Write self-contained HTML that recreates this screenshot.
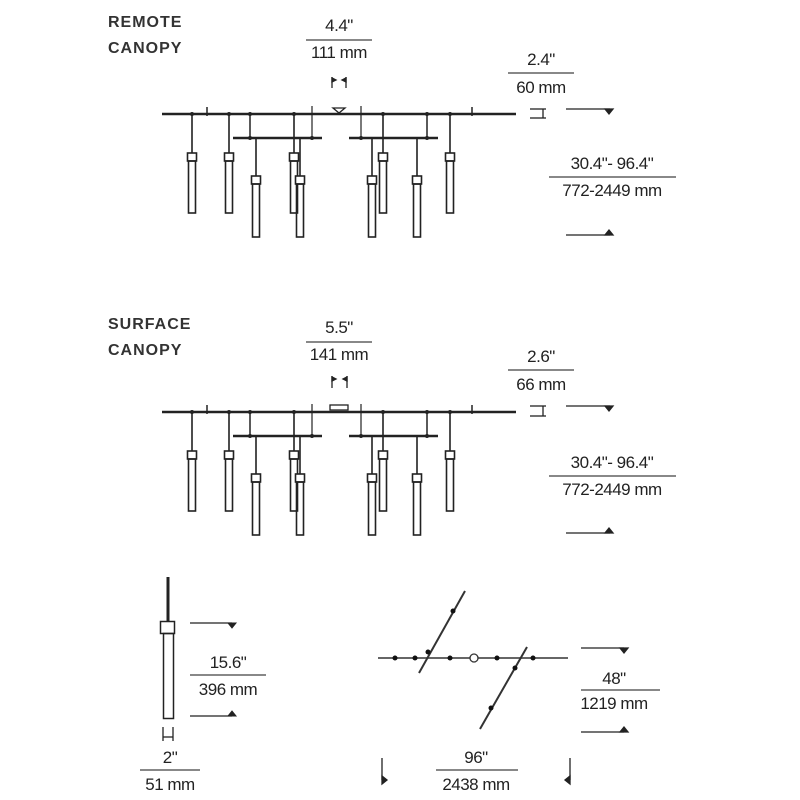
<!DOCTYPE html>
<html><head><meta charset="utf-8"><style>
html,body{margin:0;padding:0;background:#fff;}
svg{display:block;}
text{font-family:"Liberation Sans",sans-serif;fill:#222;font-size:17px;letter-spacing:-0.5px;}
.t{text-anchor:middle;}
.lab{font-size:16px;letter-spacing:1px;font-weight:bold;fill:#333;}
</style></head><body>
<svg width="800" height="800" viewBox="0 0 800 800" xmlns="http://www.w3.org/2000/svg">
<defs>
<g id="fix" stroke="#222" fill="none">
  <line x1="162" y1="0" x2="516" y2="0" stroke-width="2.5"/>
  <line x1="207" y1="-7" x2="207" y2="2" stroke-width="1.5"/>
  <line x1="312" y1="-8" x2="312" y2="24" stroke-width="1.2"/>
  <line x1="361" y1="-8" x2="361" y2="24" stroke-width="1.2"/>
  <line x1="472" y1="-7" x2="472" y2="2" stroke-width="1.5"/>
  <line x1="233" y1="24" x2="322" y2="24" stroke-width="2.5"/>
  <line x1="349" y1="24" x2="438" y2="24" stroke-width="2.5"/>
  <line x1="250" y1="0" x2="250" y2="24" stroke-width="1.5"/>
  <line x1="427" y1="0" x2="427" y2="24" stroke-width="1.5"/>
  <g stroke-width="1.6">
    <line x1="192" y1="0" x2="192" y2="39"/><rect x="187.5" y="39" width="9" height="8" fill="#fff"/><rect x="188.5" y="47" width="7" height="52"/>
    <line x1="229" y1="0" x2="229" y2="39"/><rect x="224.5" y="39" width="9" height="8" fill="#fff"/><rect x="225.5" y="47" width="7" height="52"/>
    <line x1="294" y1="0" x2="294" y2="39"/><rect x="289.5" y="39" width="9" height="8" fill="#fff"/><rect x="290.5" y="47" width="7" height="52"/>
    <line x1="383" y1="0" x2="383" y2="39"/><rect x="378.5" y="39" width="9" height="8" fill="#fff"/><rect x="379.5" y="47" width="7" height="52"/>
    <line x1="450" y1="0" x2="450" y2="39"/><rect x="445.5" y="39" width="9" height="8" fill="#fff"/><rect x="446.5" y="47" width="7" height="52"/>
    <line x1="256" y1="24" x2="256" y2="62"/><rect x="251.5" y="62" width="9" height="8" fill="#fff"/><rect x="252.5" y="70" width="7" height="53"/>
    <line x1="300" y1="24" x2="300" y2="62"/><rect x="295.5" y="62" width="9" height="8" fill="#fff"/><rect x="296.5" y="70" width="7" height="53"/>
    <line x1="372" y1="24" x2="372" y2="62"/><rect x="367.5" y="62" width="9" height="8" fill="#fff"/><rect x="368.5" y="70" width="7" height="53"/>
    <line x1="417" y1="24" x2="417" y2="62"/><rect x="412.5" y="62" width="9" height="8" fill="#fff"/><rect x="413.5" y="70" width="7" height="53"/>
  </g>
  <g fill="#222" stroke="none">
    <circle cx="192" cy="0" r="2"/><circle cx="229" cy="0" r="2"/><circle cx="250" cy="0" r="2"/><circle cx="294" cy="0" r="2"/>
    <circle cx="383" cy="0" r="2"/><circle cx="427" cy="0" r="2"/><circle cx="450" cy="0" r="2"/>
    <circle cx="250" cy="24" r="2"/><circle cx="312" cy="24" r="2"/><circle cx="361" cy="24" r="2"/><circle cx="427" cy="24" r="2"/>
  </g>
</g>
</defs>

<text x="108" y="27" class="lab">REMOTE</text>
<text x="108" y="53" class="lab">CANOPY</text>
<text x="339" y="31" class="t">4.4"</text>
<line x1="306" y1="40" x2="372" y2="40" stroke="#888" stroke-width="2"/>
<text x="339" y="58" class="t">111 mm</text>
<g stroke="#222" stroke-width="1.3" fill="#222">
  <line x1="332" y1="77" x2="332" y2="88"/><line x1="346" y1="77" x2="346" y2="88"/>
  <path d="M332 78 l4 2 l-4 2z"/><path d="M346 78 l-4 2 l4 2z"/>
</g>
<use href="#fix" transform="translate(0,114)"/>
<path d="M333 108 h12 l-6 5z" fill="none" stroke="#222" stroke-width="1.3"/>
<text x="541" y="65" class="t">2.4"</text>
<line x1="508" y1="73" x2="574" y2="73" stroke="#888" stroke-width="2"/>
<text x="541" y="93" class="t">60 mm</text>
<g stroke="#222" stroke-width="1.3" fill="#222">
  <line x1="530" y1="109" x2="546" y2="109"/><line x1="530" y1="118" x2="546" y2="118"/><line x1="543" y1="109" x2="543" y2="118"/>
  <line x1="566" y1="109" x2="610" y2="109"/><path d="M605 109 h8 l-4 5z"/>
  <line x1="566" y1="235" x2="610" y2="235"/><path d="M605 235 h8 l-4 -5z"/>
</g>
<text x="612" y="169" class="t">30.4"- 96.4"</text>
<line x1="549" y1="177" x2="676" y2="177" stroke="#888" stroke-width="2"/>
<text x="612" y="196" class="t">772-2449 mm</text>

<text x="108" y="329" class="lab">SURFACE</text>
<text x="108" y="355" class="lab">CANOPY</text>
<text x="339" y="333" class="t">5.5"</text>
<line x1="306" y1="342" x2="372" y2="342" stroke="#888" stroke-width="2"/>
<text x="339" y="360" class="t">141 mm</text>
<g stroke="#222" stroke-width="1.3" fill="#222">
  <line x1="332" y1="376" x2="332" y2="388"/><line x1="347" y1="376" x2="347" y2="388"/>
  <path d="M332 377 l4 2 l-4 2z"/><path d="M347 377 l-4 2 l4 2z"/>
</g>
<use href="#fix" transform="translate(0,412)"/>
<rect x="330" y="405" width="18" height="5" fill="#fff" stroke="#222" stroke-width="1.3"/>
<text x="541" y="362" class="t">2.6"</text>
<line x1="508" y1="370" x2="574" y2="370" stroke="#888" stroke-width="2"/>
<text x="541" y="390" class="t">66 mm</text>
<g stroke="#222" stroke-width="1.3" fill="#222">
  <line x1="530" y1="406" x2="546" y2="406"/><line x1="530" y1="416" x2="546" y2="416"/><line x1="543" y1="406" x2="543" y2="416"/>
  <line x1="566" y1="406" x2="610" y2="406"/><path d="M605 406 h8 l-4 5z"/>
  <line x1="566" y1="533" x2="610" y2="533"/><path d="M605 533 h8 l-4 -5z"/>
</g>
<text x="612" y="468" class="t">30.4"- 96.4"</text>
<line x1="549" y1="476" x2="676" y2="476" stroke="#888" stroke-width="2"/>
<text x="612" y="495" class="t">772-2449 mm</text>

<g stroke="#222" fill="none">
  <line x1="168" y1="577" x2="168" y2="622" stroke-width="3"/>
  <rect x="160.5" y="621.5" width="14" height="12" fill="#fff" stroke-width="1.5"/>
  <rect x="163.5" y="633.5" width="10" height="85" stroke-width="1.5"/>
  <line x1="190" y1="623" x2="232" y2="623" stroke-width="1.3"/><path d="M228 623 h8 l-4 5z" fill="#222"/>
  <line x1="190" y1="716" x2="232" y2="716" stroke-width="1.3"/><path d="M228 716 h8 l-4 -5z" fill="#222"/>
  <line x1="163" y1="727" x2="163" y2="741" stroke-width="1.3"/><line x1="173" y1="727" x2="173" y2="741" stroke-width="1.3"/>
  <line x1="163" y1="737" x2="173" y2="737" stroke-width="1.3"/>
</g>
<text x="228" y="668" class="t">15.6"</text>
<line x1="190" y1="675" x2="266" y2="675" stroke="#888" stroke-width="2"/>
<text x="228" y="695" class="t">396 mm</text>
<text x="170" y="763" class="t">2"</text>
<line x1="140" y1="770" x2="200" y2="770" stroke="#888" stroke-width="2"/>
<text x="170" y="790" class="t">51 mm</text>

<g stroke="#333" stroke-width="2">
  <line x1="378" y1="658" x2="568" y2="658" stroke="#666"/>
  <line x1="465" y1="591" x2="419" y2="673"/>
  <line x1="527" y1="647" x2="480" y2="729"/>
</g>
<g fill="#111">
  <circle cx="395" cy="658" r="2.5"/><circle cx="415" cy="658" r="2.5"/><circle cx="450" cy="658" r="2.5"/>
  <circle cx="497" cy="658" r="2.5"/><circle cx="533" cy="658" r="2.5"/>
  <circle cx="453" cy="611" r="2.5"/><circle cx="428" cy="652" r="2.5"/>
  <circle cx="515" cy="668" r="2.5"/><circle cx="491" cy="708" r="2.5"/>
</g>
<circle cx="474" cy="658" r="4" fill="#fff" stroke="#333" stroke-width="1.3"/>
<g stroke="#222" stroke-width="1.3" fill="#222">
  <line x1="581" y1="648" x2="624" y2="648"/><path d="M620 648 h8 l-4 5z"/>
  <line x1="581" y1="732" x2="624" y2="732"/><path d="M620 732 h8 l-4 -5z"/>
  <line x1="382" y1="758" x2="382" y2="780"/><path d="M382 776 v8 l5 -4z"/>
  <line x1="570" y1="758" x2="570" y2="780"/><path d="M570 776 v8 l-5 -4z"/>
</g>
<text x="614" y="684" class="t">48"</text>
<line x1="581" y1="690" x2="660" y2="690" stroke="#888" stroke-width="2"/>
<text x="614" y="709" class="t">1219 mm</text>
<text x="476" y="763" class="t">96"</text>
<line x1="436" y1="770" x2="518" y2="770" stroke="#888" stroke-width="2"/>
<text x="476" y="790" class="t">2438 mm</text>
</svg>
</body></html>
